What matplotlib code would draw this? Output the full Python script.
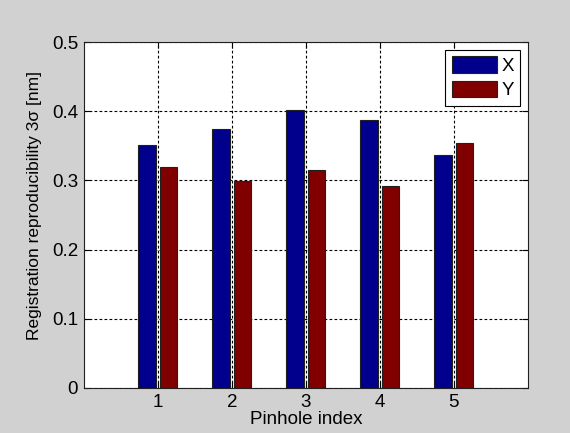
import numpy as np
import matplotlib
matplotlib.use("Agg")
import matplotlib.pyplot as plt

plt.rcParams['font.family'] = ['Liberation Sans', 'DejaVu Sans']

pinholes = [1, 2, 3, 4, 5]
x_repro = [0.351, 0.374, 0.402, 0.387, 0.337]
y_repro = [0.320, 0.299, 0.315, 0.292, 0.354]
series_names = ['X', 'Y']
yticks = [0, 0.1, 0.2, 0.3, 0.4, 0.5]
ytick_labels = ['0', '0.1', '0.2', '0.3', '0.4', '0.5']

bg = '#d1d1d1'
fig = plt.figure(figsize=(5.70, 4.33), dpi=100, facecolor=bg)
ax = fig.add_axes([0.147, 0.104, 0.779, 0.799])

pos = np.array(pinholes, dtype=float)
w = 0.24
ax.bar(pos - 0.145, x_repro, width=w, color='#00008c', edgecolor='#202020',
       linewidth=0.8, label=series_names[0], zorder=3)
ax.bar(pos + 0.145, y_repro, width=w, color='#800000', edgecolor='#202020',
       linewidth=0.8, label=series_names[1], zorder=3)

ax.set_xlim(0, 6)
ax.set_ylim(0, 0.5)
ax.set_xticks(pinholes)
ax.set_yticks(yticks)
ax.set_yticklabels(ytick_labels)
ax.tick_params(direction='in', top=True, right=True, labelsize=13.5, length=4,
               width=0.8, pad=4)
ax.grid(True, color='black', linestyle=(0, (2.5, 2.0)), linewidth=0.8, zorder=1)
ax.set_axisbelow(True)
for s in ax.spines.values():
    s.set_linewidth(0.8)
    s.set_color('#202020')

ax.set_xlabel('Pinhole index', fontsize=13.5, labelpad=0)
ax.set_ylabel('Registration reproducibility 3\u03c3 [nm]', fontsize=12.5)
ax.yaxis.set_label_coords(-0.095, 0.526)

leg = ax.legend(loc='upper right', fontsize=13.5, fancybox=False, framealpha=1,
                edgecolor='black', handlelength=2.4, handleheight=1.0,
                handletextpad=0.25, borderpad=0.35, labelspacing=0.3,
                borderaxespad=0.4)
leg.get_frame().set_linewidth(0.8)

fig.savefig('out.png', dpi=100, facecolor=bg)
